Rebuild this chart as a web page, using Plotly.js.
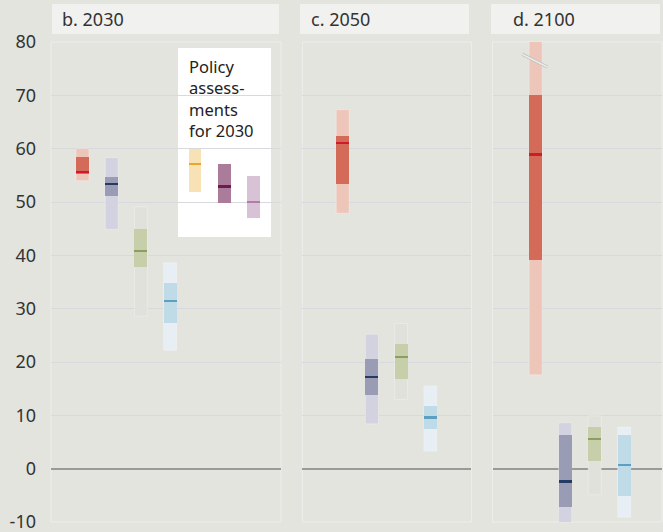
<!DOCTYPE html>
<html>
<head>
<meta charset="utf-8">
<script src="https://cdn.plot.ly/plotly-3.0.1.min.js"></script>
<style>html,body{margin:0;padding:0;background:#e4e4df;}#chart{width:663px;height:532px;}</style>
</head>
<body>
<div id="chart"></div>
<script>
// ---- data (GtCO2-eq/yr) ----
const scenarios = ['Implemented policies', 'Limit warming to 2°C (>67%)', 'Return warming to 1.5°C after high overshoot', 'Limit warming to 1.5°C (>50%)'];
const policies = ['Current policies', 'NDCs unconditional', 'NDCs conditional'];
const panelTitles = ['b. 2030', 'c. 2050', 'd. 2100'];
const yTicks = [-10, 0, 10, 20, 30, 40, 50, 60, 70, 80];

const min2030 = [54.0, 44.9, 28.6, 22.2];
const q1_2030 = [55.3, 51.1, 37.8, 27.3];
const med2030 = [55.7, 53.3, 40.8, 31.4];
const q3_2030 = [58.4, 54.6, 44.9, 34.8];
const max2030 = [60.0, 58.3, 49.1, 38.6];

const polMin2030 = [51.9, 49.9, 47.0];
const polMed2030 = [57.1, 52.9, 50.0];
const polMax2030 = [60.0, 57.1, 54.8];

const min2050 = [47.9, 8.4, 13.0, 3.3];
const q1_2050 = [53.4, 13.8, 16.8, 7.4];
const med2050 = [61.0, 17.2, 21.0, 9.6];
const q3_2050 = [62.3, 20.6, 23.4, 11.8];
const max2050 = [67.3, 25.2, 27.2, 15.5];

const min2100 = [17.6, -11.2, -4.9, -9.1];
const q1_2100 = [39.1, -7.2, 1.5, -5.2];
const med2100 = [58.9, -2.4, 5.6, 0.7];
const q3_2100 = [70.1, 6.3, 7.8, 6.3];
const max2100 = [88.0, 8.6, 9.9, 7.8];

// ---- styles ----
const outerCol = ['#edc5b9', '#d2d2e0', '#e0e1da', '#e7eff4'];
const innerCol = ['#d46b59', '#9a9bb5', '#c6cfa9', '#c0dbe8'];
const medCol   = ['#cf1a2c', '#243a63', '#8b9d61', '#5d9fc0'];
const polCol    = ['#f7e1b5', '#aa7c99', '#d7c3d5'];
const polMedCol = ['#e9a62a', '#6b1b52', '#b47aa9'];

const W = 0.44;          // bar width (category units)
const MH = 0.4;          // median line thickness (data units)
const POL_SHIFT = -0.145;
const Y_MAX = 80;

const traces = [];
function addPanel(xa, cats, mn, q1, md, q3, mx) {
  cats.forEach((c, i) => {
    const clip = mx[i] > Y_MAX;
    traces.push({type:'bar', xaxis:xa, yaxis:'y', x:[c], base:[mn[i]], y:[mx[i]-mn[i]], width:W, cliponaxis:clip,
      marker:{color:outerCol[i], line:{width:0.8, color:'rgba(255,255,255,0.35)'}}, hoverinfo:'skip', showlegend:false});
    traces.push({type:'bar', xaxis:xa, yaxis:'y', x:[c], base:[q1[i]], y:[q3[i]-q1[i]], width:W, cliponaxis:clip,
      marker:{color:innerCol[i], line:{width:0}}, hoverinfo:'skip', showlegend:false});
    traces.push({type:'bar', xaxis:xa, yaxis:'y', x:[c], base:[md[i]-MH/2], y:[MH], width:W, cliponaxis:clip,
      marker:{color:medCol[i], line:{width:0}}, hoverinfo:'skip', showlegend:false});
  });
}
addPanel('x', scenarios, min2030, q1_2030, med2030, q3_2030, max2030);
addPanel('x2', scenarios, min2050, q1_2050, med2050, q3_2050, max2050);
addPanel('x3', scenarios, min2100, q1_2100, med2100, q3_2100, max2100);

policies.forEach((p, i) => {
  traces.push({type:'bar', xaxis:'x', yaxis:'y', x:[p], base:[polMin2030[i]], y:[polMax2030[i]-polMin2030[i]],
    width:W, offset:-W/2+POL_SHIFT, marker:{color:polCol[i], line:{width:0}}, hoverinfo:'skip', showlegend:false});
  traces.push({type:'bar', xaxis:'x', yaxis:'y', x:[p], base:[polMed2030[i]-MH/2], y:[MH],
    width:W, offset:-W/2+POL_SHIFT, marker:{color:polMedCol[i], line:{width:0}}, hoverinfo:'skip', showlegend:false});
});

const FONT = '"Noto Sans", "Open Sans", sans-serif';
const xCommon = {type:'category', showgrid:false, zeroline:false, showticklabels:false, ticks:'', showline:false, fixedrange:true, anchor:'y'};

const domB = [0, 0.3764], domC = [0.4116, 0.6882], domD = [0.7226, 1];

const shapes = [];
// plot-area outlines
[domB, domC, domD].forEach(d => shapes.push({type:'rect', xref:'paper', yref:'paper', x0:d[0], x1:d[1], y0:0, y1:1,
  line:{color:'#ececea', width:1}, fillcolor:'rgba(0,0,0,0)', layer:'below'}));
// header boxes
const hdr = [[0.0016, 0.3732], [0.4075, 0.6841], [0.7201, 0.9967]];
hdr.forEach(h => shapes.push({type:'rect', xref:'paper', yref:'paper', x0:h[0], x1:h[1], y0:1.0167, y1:1.0792,
  line:{width:0}, fillcolor:'#f1f1ef'}));
// policy assessments white box
shapes.push({type:'rect', xref:'paper', yref:'paper', x0:0.2079, x1:0.3601, y0:0.594, y1:0.9875,
  line:{width:0}, fillcolor:'#ffffff', layer:'below'});
// axis-break mark on the 2100 red bar
shapes.push({type:'line', xref:'x3', yref:'y', x0:-0.45, x1:0.40, y0:77.7, y1:75.3,
  line:{color:'#c4c4c1', width:3.2}});
shapes.push({type:'line', xref:'x3', yref:'y', x0:-0.45, x1:0.40, y0:77.7, y1:75.3,
  line:{color:'#eeeeec', width:1.4}});

const annotations = [];
const titleX = [0.0147, 0.4222, 0.7528];
panelTitles.forEach((t, i) => annotations.push({xref:'paper', yref:'paper', x:titleX[i], y:1.048, xanchor:'left', yanchor:'middle',
  text:t, showarrow:false, font:{family:FONT, size:18, color:'#333333'}}));
annotations.push({xref:'paper', yref:'paper', x:0.2225, y:0.978, xanchor:'left', yanchor:'top', align:'left',
  text:'Policy<br>assess-<br>ments<br>for 2030', showarrow:false, font:{family:FONT, size:16.5, color:'#222222'}});

const layout = {
  width:663, height:532,
  margin:{l:51, r:1, t:42, b:10, pad:0},
  paper_bgcolor:'#e4e4df', plot_bgcolor:'#e4e4df',
  barmode:'overlay', bargap:0,
  showlegend:false,
  font:{family:FONT, color:'#333333'},
  xaxis: Object.assign({}, xCommon, {domain:domB, range:[-1.079, 6.798], categoryorder:'array', categoryarray:scenarios.concat(policies)}),
  xaxis2: Object.assign({}, xCommon, {domain:domC, range:[-1.377, 4.411], categoryorder:'array', categoryarray:scenarios}),
  xaxis3: Object.assign({}, xCommon, {domain:domD, range:[-1.464, 4.282], categoryorder:'array', categoryarray:scenarios}),
  yaxis: {range:[-10, Y_MAX], tickvals:yTicks, ticktext:yTicks.map(String), showgrid:true, gridcolor:'#d8d9dc', gridwidth:1,
    zeroline:true, zerolinecolor:'#9a9a9a', zerolinewidth:2, showline:false, ticks:'', ticklabelstandoff:14,
    ticklabeloverflow:'allow', tickfont:{family:FONT, size:18, color:'#333333'}, fixedrange:true},
  shapes:shapes,
  annotations:annotations
};

Plotly.newPlot('chart', traces, layout, {displayModeBar:false, staticPlot:true});
</script>
</body>
</html>
